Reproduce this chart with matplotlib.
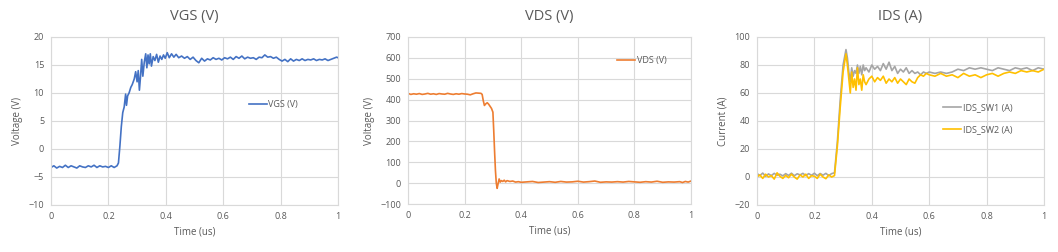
import matplotlib
matplotlib.use("Agg")
import matplotlib.pyplot as plt

vgs_t = [0.000, 0.010, 0.020, 0.030, 0.040, 0.050, 0.060, 0.070, 0.080, 0.090,
         0.100, 0.110, 0.120, 0.130, 0.140, 0.150, 0.160, 0.170, 0.180, 0.190,
         0.200, 0.210, 0.220, 0.230, 0.235, 0.240, 0.245, 0.250, 0.255, 0.260,
         0.263, 0.267, 0.272, 0.278, 0.283, 0.290, 0.295, 0.300, 0.304, 0.308,
         0.312, 0.316, 0.320, 0.325, 0.330, 0.334, 0.338, 0.342, 0.346, 0.350,
         0.356, 0.362, 0.368, 0.374, 0.380, 0.386, 0.392, 0.398, 0.405, 0.412,
         0.420, 0.428, 0.436, 0.445, 0.455, 0.465, 0.475, 0.485, 0.495, 0.505,
         0.515, 0.525, 0.535, 0.545, 0.555, 0.565, 0.575, 0.585, 0.595, 0.605,
         0.615, 0.625, 0.635, 0.645, 0.655, 0.665, 0.675, 0.685, 0.695, 0.705,
         0.715, 0.725, 0.735, 0.745, 0.755, 0.765, 0.775, 0.785, 0.795, 0.805,
         0.815, 0.825, 0.835, 0.845, 0.855, 0.865, 0.875, 0.885, 0.895, 0.905,
         0.915, 0.925, 0.935, 0.945, 0.955, 0.965, 0.975, 0.985, 0.995, 1.000]
vgs_v = [-3.3, -3.0, -3.4, -3.1, -3.3, -2.9, -3.3, -3.0, -3.2, -3.4,
         -3.0, -3.2, -3.3, -3.0, -3.2, -2.9, -3.3, -3.0, -3.2, -3.1,
         -3.3, -3.0, -3.3, -3.0, -2.5, 0.5, 4.0, 6.5, 7.5, 9.8,
         7.8, 9.5, 10.0, 11.0, 11.5, 12.5, 13.8, 12.0, 14.0, 10.5,
         13.0, 16.0, 13.0, 15.5, 17.0, 14.5, 16.8, 15.2, 17.0, 14.8,
         16.5, 15.8, 16.9, 15.5, 16.6, 16.0, 16.8, 16.2, 17.2, 16.3,
         17.0, 16.4, 16.9, 16.3, 16.6, 16.2, 16.5, 16.0, 16.4, 15.8,
         15.4, 16.2, 15.7, 16.1, 15.9, 16.3, 16.0, 16.2, 15.9, 16.3,
         16.1, 16.4, 16.0, 16.5, 16.2, 16.6, 16.1, 16.4, 16.2, 16.3,
         16.0, 16.4, 16.3, 16.8, 16.4, 16.5, 16.2, 16.4, 16.0, 15.7,
         16.0, 15.6, 16.1, 15.7, 16.0, 15.8, 16.1, 15.8, 16.0, 15.9,
         16.1, 15.8, 16.0, 15.9, 16.1, 15.8, 16.0, 16.2, 16.4, 16.3]

vds_t = [0.000, 0.010, 0.020, 0.030, 0.040, 0.050, 0.060, 0.070, 0.080, 0.090,
         0.100, 0.110, 0.120, 0.130, 0.140, 0.150, 0.160, 0.170, 0.180, 0.190,
         0.200, 0.210, 0.220, 0.230, 0.240, 0.250, 0.258, 0.262, 0.266, 0.270,
         0.275, 0.280, 0.285, 0.290, 0.295, 0.300, 0.303, 0.306, 0.309, 0.312,
         0.315, 0.318, 0.322, 0.326, 0.330, 0.335, 0.340, 0.345, 0.350, 0.360,
         0.370, 0.380, 0.390, 0.400, 0.420, 0.440, 0.460, 0.480, 0.500, 0.520,
         0.540, 0.560, 0.580, 0.600, 0.620, 0.640, 0.660, 0.680, 0.700, 0.720,
         0.740, 0.760, 0.780, 0.800, 0.820, 0.840, 0.860, 0.880, 0.900, 0.920,
         0.940, 0.960, 0.970, 0.980, 0.990, 1.000]
vds_v = [430, 425, 428, 426, 429, 425, 427, 430, 426, 428,
         425, 429, 427, 426, 430, 427, 425, 428, 426, 429,
         427, 426, 423, 428, 432, 431, 430, 425, 395, 372,
         380, 385, 378, 368, 358, 340, 250, 150, 60, 0,
         -25, -5, 20, 5, 12, 8, 14, 6, 12, 8,
         10, 5, 7, 4, 6, 8, 3, 5, 7, 4,
         8, 5, 6, 9, 5, 7, 10, 4, 6, 5,
         7, 5, 8, 6, 4, 7, 5, 9, 4, 6,
         5, 7, 3, 8, 5, 10]

ids_t = [0.000, 0.010, 0.020, 0.030, 0.040, 0.050, 0.060, 0.070, 0.080, 0.090,
         0.100, 0.110, 0.120, 0.130, 0.140, 0.150, 0.160, 0.170, 0.180, 0.190,
         0.200, 0.210, 0.220, 0.230, 0.240, 0.250, 0.260, 0.270, 0.280, 0.290,
         0.300, 0.310, 0.315, 0.320, 0.325, 0.330, 0.335, 0.340, 0.345, 0.350,
         0.355, 0.360, 0.365, 0.370, 0.375, 0.380, 0.390, 0.400, 0.410, 0.420,
         0.430, 0.440, 0.450, 0.460, 0.470, 0.480, 0.490, 0.500, 0.510, 0.520,
         0.530, 0.540, 0.550, 0.560, 0.570, 0.580, 0.590, 0.600, 0.620, 0.640,
         0.660, 0.680, 0.700, 0.720, 0.740, 0.760, 0.780, 0.800, 0.820, 0.840,
         0.860, 0.880, 0.900, 0.920, 0.940, 0.960, 0.980, 1.000]
ids_sw1 = [2.5, 1.0, 2.8, 0.5, 2.2, 1.0, 2.6, 1.2, 2.0, 0.8,
           2.4, 1.1, 2.7, 0.9, 2.3, 1.5, 2.6, 1.0, 2.4, 1.2,
           2.7, 0.9, 2.5, 1.3, 2.6, 1.0, 2.4, 3.0, 25.0, 55.0,
           80.0, 91.0, 85.0, 75.0, 68.0, 78.0, 72.0, 76.0, 74.0, 80.0,
           74.0, 79.0, 73.0, 80.0, 76.0, 78.0, 75.0, 80.0, 77.0, 79.0,
           76.0, 81.0, 77.0, 82.0, 76.0, 79.0, 74.0, 77.0, 75.0, 78.0,
           74.0, 76.0, 74.0, 75.0, 73.0, 75.0, 74.0, 75.0, 74.0, 75.0,
           74.0, 75.0, 77.0, 76.0, 78.0, 77.0, 78.0, 77.0, 76.0, 78.0,
           77.0, 76.0, 78.0, 77.0, 78.0, 76.0, 78.0, 77.0]
ids_sw2 = [0.0, 1.5, -1.0, 2.0, 0.0, 1.0, -1.5, 3.0, 0.5, -1.0,
           1.2, -0.5, 2.0, 0.0, -1.5, 1.5, 0.0, 2.0, -1.0, 1.0,
           0.5, -1.0, 2.0, 0.0, -1.2, 1.5, 0.0, 1.0, 22.0, 50.0,
           75.0, 88.0, 80.0, 70.0, 60.0, 75.0, 64.0, 70.0, 62.0, 78.0,
           66.0, 70.0, 62.0, 73.0, 68.0, 66.0, 70.0, 72.0, 68.0, 71.0,
           69.0, 72.0, 67.0, 70.0, 68.0, 71.0, 67.0, 70.0, 68.0, 66.0,
           70.0, 68.0, 67.0, 71.0, 73.0, 72.0, 74.0, 73.0, 72.0, 74.0,
           72.0, 73.0, 71.0, 74.0, 72.0, 73.0, 71.0, 73.0, 74.0, 72.0,
           74.0, 75.0, 74.0, 76.0, 75.0, 76.0, 75.0, 77.0]

# ---- style ----
TXT = "#595959"
GRID = "#D9D9D9"
plt.rcParams["font.family"] = ["Open Sans", "DejaVu Sans"]

fig = plt.figure(figsize=(10.58, 2.52), dpi=100)


def setup(ax, title, ylabel, ylim, ystep):
    ax.set_xlim(0, 1)
    ax.set_ylim(*ylim)
    ax.set_xticks([0, 0.2, 0.4, 0.6, 0.8, 1])
    ax.set_xticklabels(["0", "0.2", "0.4", "0.6", "0.8", "1"])
    ax.set_yticks(list(range(ylim[0], ylim[1] + 1, ystep)))
    ax.grid(True, color=GRID, linewidth=0.8)
    ax.set_axisbelow(True)
    for s in ax.spines.values():
        s.set_color(GRID)
        s.set_linewidth(0.8)
    ax.tick_params(length=0, labelsize=6.5, colors=TXT, pad=5)
    ax.set_title(title, fontsize=10.5, color=TXT, pad=12)
    ax.set_xlabel("Time (us)", fontsize=7, color=TXT, labelpad=4)
    ax.set_ylabel(ylabel, fontsize=7, color=TXT, labelpad=4)


# panel 1: VGS
ax1 = fig.add_axes([51 / 1058, 1 - 205 / 252, 287 / 1058, 168 / 252])
ax1.plot(vgs_t, vgs_v, color="#4472C4", linewidth=1.2, label="VGS (V)")
setup(ax1, "VGS (V)", "Voltage (V)", (-10, 20), 5)
ax1.legend(loc="center left", bbox_to_anchor=(0.66, 0.6), frameon=False,
           fontsize=6.5, labelcolor=TXT, handlelength=2.0, handletextpad=0.2)

# panel 2: VDS
ax2 = fig.add_axes([408 / 1058, 1 - 204 / 252, 283 / 1058, 167 / 252])
ax2.plot(vds_t, vds_v, color="#ED7D31", linewidth=1.2, label="VDS (V)")
setup(ax2, "VDS (V)", "Voltage (V)", (-100, 700), 100)
ax2.legend(loc="center left", bbox_to_anchor=(0.71, 0.86), frameon=False,
           fontsize=6.5, labelcolor=TXT, handlelength=2.0, handletextpad=0.2)

# panel 3: IDS
ax3 = fig.add_axes([757 / 1058, 1 - 205 / 252, 287 / 1058, 168 / 252])
ax3.plot(ids_t, ids_sw1, color="#A5A5A5", linewidth=1.2, label="IDS_SW1 (A)")
ax3.plot(ids_t, ids_sw2, color="#FFC000", linewidth=1.2, label="IDS_SW2 (A)")
setup(ax3, "IDS (A)", "Current (A)", (-20, 100), 20)
ax3.legend(loc="center left", bbox_to_anchor=(0.62, 0.515), frameon=False,
           fontsize=6.5, labelcolor=TXT, handlelength=2.0, handletextpad=0.2,
           labelspacing=1.4)

fig.savefig("out.png", dpi=100)
